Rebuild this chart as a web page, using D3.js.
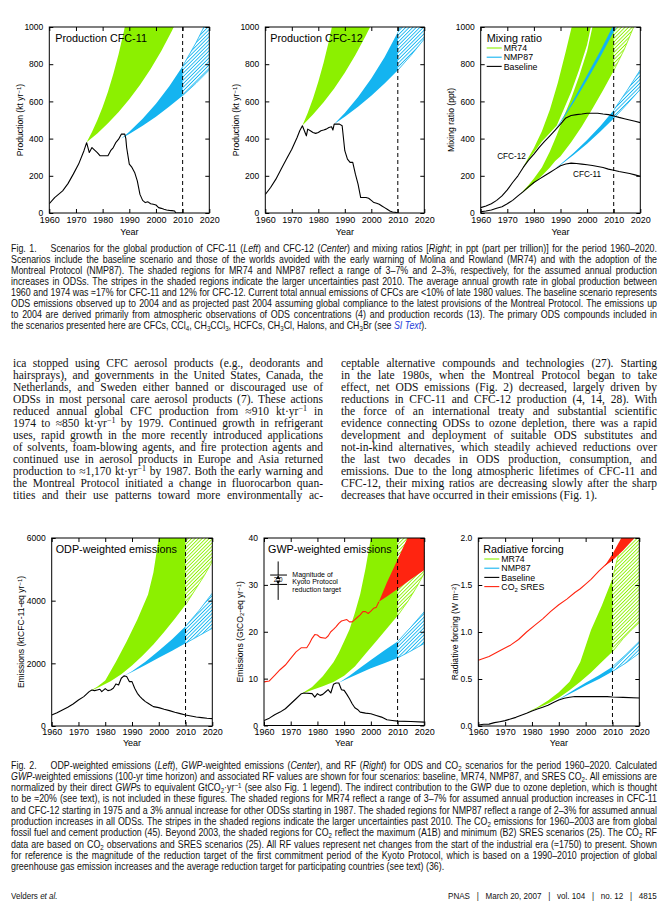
<!DOCTYPE html>
<html>
<head>
<meta charset="utf-8">
<script src="https://cdn.jsdelivr.net/npm/d3@7"></script>
<style>
  body { margin: 0; background: #fff; width: 668px; height: 918px; position: relative; overflow: hidden; }
  svg { position: absolute; left: 0; top: 0; }
  .ln { position: absolute; white-space: pre; color: #111; transform-origin: 0 0; }
  .cap { font-family: "Liberation Sans", Arial, sans-serif; font-size: 10.3px; line-height: 11px; }
  .body { font-family: "Liberation Serif", "Times New Roman", serif; font-size: 11.5px; line-height: 12px; }
  .foot { font-family: "Liberation Sans", Arial, sans-serif; font-size: 9.4px; line-height: 11px; }
  sub { font-size: 0.7em; vertical-align: -0.25em; line-height: 0; }
  sup { font-size: 0.7em; vertical-align: 0.45em; line-height: 0; }
  .gap { display: inline-block; width: 16px; }
  .si { color: #1a3cd8; font-style: italic; }
</style>
</head>
<body>
<script>
// ---- Fig. 1 data (kt/yr and ppt) ----
var X_TICKS = [1960, 1970, 1980, 1990, 2000, 2010, 2020];
var PROD_TICKS = [0, 200, 400, 600, 800, 1000];
var ODP_TICKS = [0, 2000, 4000, 6000];
var GWP_TICKS = [0, 10, 20, 30, 40];
var RF_TICKS = [0, 0.5, 1, 1.5, 2];

var cfc11Prod = [[1960,50],[1962,83],[1965,119],[1967,158],[1969,209],[1971,263],[1973,335],[1974,378],[1975,325],[1976,352],[1977,338],[1978,325],[1979,308],[1980,308],[1982,308],[1983,335],[1984,352],[1985,380],[1986,397],[1987,424],[1988.3,424],[1988.7,400],[1989,352],[1990,263],[1991,245],[1992,218],[1993,173],[1994,100],[1995,68],[1996,56],[1997,60],[1998,50],[1999,47],[2000,43],[2001,29],[2002,25],[2003,20],[2004,16],[2005,14],[2006,13],[2007,11],[2007.4,0],[2010,0]];
var cfc11Mr74Lo = [[1974,380],[1978,428],[1982,482],[1986,543],[1990,611],[1994,688],[1998,774],[2002,871],[2006,980],[2008,1040]];
var cfc11Mr74Hi = [[1974,380],[1976,435],[1978,498],[1980,570],[1982,652],[1984,747],[1986,855],[1988,979],[1990,1120]];
var cfc11Nmp87Lo = [[1987,400],[1990,425],[1995,469],[2000,518],[2005,572],[2010,631],[2015,697],[2020,769]];
var cfc11Nmp87Hi = [[1987,400],[1990,437],[1995,507],[2000,587],[2005,681],[2010,789],[2015,915],[2018,1000],[2020,1061]];

var cfc12Prod = [[1960,100],[1962,137],[1964,182],[1966,236],[1968,290],[1970,343],[1972,406],[1973,442],[1974,469],[1975,433],[1975.5,415],[1976,451],[1977,442],[1978,433],[1979,428],[1980,433],[1981,442],[1982,446],[1983,451],[1984,460],[1985,464],[1985.5,446],[1986,478],[1988,478],[1989,469],[1990,335],[1991,290],[1992,272],[1993,272],[1994,209],[1995,155],[1996,83],[1998,83],[1999,79],[2000,68],[2001,56],[2002,52],[2003,47],[2004,38],[2005,29],[2006,20],[2007,11],[2008,5],[2009,4],[2010,0]];
var cfc12Mr74Lo = [[1974,470],[1978,529],[1982,595],[1986,670],[1990,754],[1994,849],[1998,955],[2000,1013]];
var cfc12Mr74Hi = [[1974,470],[1976,538],[1978,616],[1980,705],[1982,808],[1984,925],[1986,1059]];
var cfc12Nmp87Lo = [[1986,478],[1990,517],[1995,571],[2000,630],[2005,696],[2010,768],[2015,848],[2020,936]];
var cfc12Nmp87Hi = [[1986,478],[1990,538],[1995,624],[2000,723],[2005,838],[2010,972],[2012,1031]];

var cfc12Mix = [[1960,29],[1962,38],[1964,50],[1966,68],[1968,92],[1970,124],[1972,164],[1974,200],[1976,245],[1978,284],[1980,317],[1982,353],[1984,385],[1986,415],[1988,446],[1990,478],[1992,511],[1994,524],[1996,529],[1998,532],[2000,536],[2004,536],[2006,532],[2008,529],[2010,522],[2012,514],[2014,507],[2016,500],[2018,493],[2020,486]];
var cfc11Mix = [[1960,7],[1962,11],[1964,16],[1966,25],[1968,34],[1970,50],[1972,68],[1974,92],[1976,115],[1978,140],[1980,164],[1982,182],[1984,200],[1986,218],[1988,236],[1990,254],[1992,263],[1994,268],[1996,266],[1998,263],[2000,259],[2002,255],[2004,250],[2006,245],[2008,236],[2010,230],[2012,223],[2014,218],[2016,212],[2018,205],[2020,198]];
var mix12Mr74Lo = [[1975,222],[1978,288],[1980,325],[1983,385],[1986,430],[1988.6,470],[1991,550],[1994,650],[1997,770],[2000,905],[2001.4,1000],[2003,1100]];
var mix12Mr74Hi = [[1975,222],[1978,300],[1980,350],[1983,440],[1986,555],[1989,700],[1992,870],[1994.2,1000],[1995.5,1100]];
var mix11Mr74Lo = [[1975,104],[1978,135],[1980,160],[1983,200],[1986,245],[1988,280],[1990,305],[1994,380],[1998,465],[2002,560],[2006,660],[2010,765],[2014,880],[2017.5,1000],[2019,1060]];
var mix11Mr74Hi = [[1975,104],[1978,150],[1980,185],[1983,245],[1986,330],[1988.6,420],[1991,510],[1994,615],[1997,735],[2000,870],[2002,1000],[2003.5,1100]];
var mix12Nmp87Lo = [[1988,450],[1990,485],[1995,595],[2000,715],[2005,840],[2010,975],[2012,1030]];
var mix12Nmp87Hi = [[1988,450],[1990,492],[1995,612],[2000,742],[2005,872],[2009.5,1000],[2011,1045]];
var mix11Nmp87Lo = [[1988,240],[1990,258],[1995,313],[2000,372],[2005,438],[2010,508],[2015,585],[2020,665]];
var mix11Nmp87Hi = [[1988,240],[1990,262],[1995,324],[2000,393],[2005,468],[2010,553],[2015,658],[2020,770]];

// ---- Fig. 2 data ----
var odpBase = [[1960,352],[1962,426],[1964,512],[1966,597],[1968,703],[1970,831],[1972,938],[1974,1098],[1975,1151],[1976,1130],[1977,1151],[1978,1172],[1978.7,1098],[1980,1194],[1981,1130],[1982,1151],[1983,1204],[1984,1343],[1985,1311],[1986,1524],[1987,1599],[1988,1577],[1989,1417],[1990,1417],[1991,1204],[1992,1044],[1993,938],[1994,853],[1995,778],[1996,725],[1997,671],[1998,618],[2000,586],[2002,533],[2004,490],[2006,437],[2008,394],[2010,352],[2012,320],[2014,288],[2016,266],[2018,245],[2020,234]];
var odpMr74Lo = [[1974,1100],[1978,1250],[1982,1430],[1986,1650],[1990,1930],[1994,2250],[1998,2600],[2002,3000],[2006,3420],[2010,3870],[2014,4400],[2017,4800],[2020,5250]];
var odpMr74Hi = [[1974,1100],[1977,1250],[1980,1450],[1984,2050],[1988,2700],[1992,3400],[1996,4200],[1998,4900],[2000,6000],[2001,6500]];
var odpNmp87Lo = [[1987,1600],[1990,1720],[1995,1950],[2000,2180],[2005,2400],[2010,2640],[2015,2880],[2020,3120]];
var odpNmp87Hi = [[1987,1600],[1990,1750],[1995,2050],[2000,2400],[2005,2770],[2010,3180],[2015,3680],[2020,4240]];

var gwpBase = [[1960,1.07],[1962,1.57],[1964,2.29],[1966,2.86],[1968,3.57],[1970,4.64],[1972,5.71],[1974,6.79],[1975,6.93],[1978,6.79],[1979,6.07],[1980,6.79],[1981,6.43],[1982,6.64],[1983,7.14],[1984,7.64],[1985,6.93],[1986,8.79],[1987,9.07],[1988,9.07],[1989,7.64],[1990,7.5],[1991,6.64],[1992,5.71],[1993,4.64],[1994,3.79],[1995,3.43],[1996,2.86],[1998,2.64],[2000,2.5],[2002,2.14],[2004,1.79],[2006,1.21],[2008,1.07],[2010,0.93],[2015,0.86],[2020,0.71]];
var co2Emis = [[1960,9.3],[1962,9.5],[1964,10.7],[1966,11.9],[1968,12.9],[1970,14.3],[1972,15.7],[1974,16.6],[1976,16.6],[1977,17.5],[1978,18.6],[1979,19.4],[1980,19.3],[1981,18.8],[1983,18.6],[1984,19.1],[1985,20.0],[1986,20.5],[1987,21.1],[1988,21.8],[1989,22.3],[1991,22.6],[1992,22.1],[1993,22.1],[1994,22.6],[1995,23.1],[1996,23.6],[1997,24.3],[1998,24.3],[1999,23.9],[2000,24.4],[2001,25.0],[2002,25.2],[2003,26.4]];
var gwpMr74Lo = [[1974,6.8],[1978,7.6],[1982,8.4],[1986,9.3],[1990,10.6],[1994,12.6],[1998,15.3],[2002,18.0],[2006,20.7],[2010,23.4],[2014,26.6],[2017,29.4],[2020,32.5]];
var gwpMr74Hi = [[1974,6.8],[1978,8.2],[1982,10.5],[1986,13.5],[1988,15.5],[1990,18],[1992,20.5],[1994,24],[1996,28],[1998,33.5],[2000,40],[2001,44]];
var gwpNmp87Lo = [[1988,9.1],[1992,10.2],[1996,11.2],[2000,12.2],[2005,13.3],[2010,14.4],[2015,15.9],[2020,17.5]];
var gwpNmp87Hi = [[1988,9.1],[1992,10.6],[1996,12.3],[2000,14.0],[2005,16.0],[2010,17.9],[2015,21.0],[2020,24.3]];
var co2SresLo = [[2003,26.4],[2006,27.5],[2010,29.1],[2015,31.2],[2020,33.2]];
var co2SresHi = [[2003,26.4],[2006,30.5],[2010,35.4],[2013.7,40],[2015,41.8]];
var KYOTO = { year: 1965.3, top: 35, upper: 32.1, lower: 30.1, bottom: 26.8, from: 1962.3, to: 1968.6, textYear: 1970.6, text: ['Magnitude of', 'Kyoto Protocol', 'reduction target'], textY: [32.15, 30.6, 29.05] };

var rfBase = [[1960,0.01],[1962,0.018],[1964,0.02],[1966,0.036],[1968,0.046],[1970,0.057],[1972,0.075],[1974,0.092],[1976,0.114],[1978,0.135],[1980,0.16],[1982,0.18],[1984,0.2],[1986,0.22],[1988,0.25],[1990,0.277],[1992,0.295],[1994,0.305],[1996,0.313],[2008,0.313],[2010,0.309],[2014,0.305],[2020,0.298]];
var co2Rf = [[1960,0.70],[1964,0.74],[1968,0.80],[1972,0.86],[1975,0.92],[1978,1.0],[1981,1.07],[1984,1.14],[1987,1.22],[1990,1.29],[1993,1.35],[1996,1.42],[1998,1.46],[2000,1.51],[2002,1.56],[2005,1.65],[2008,1.73]];
var rfMr74Lo = [[1978,0.14],[1982,0.19],[1986,0.24],[1990,0.3],[1994,0.38],[1998,0.47],[2002,0.57],[2006,0.68],[2010,0.79],[2014,0.93],[2017,1.02],[2020,1.1]];
var rfMr74Hi = [[1978,0.14],[1982,0.2],[1986,0.27],[1990,0.36],[1994,0.47],[1998,0.68],[2002,1.02],[2006,1.28],[2010,1.57],[2012,1.8],[2013.4,2.0],[2014,2.1]];
var rfNmp87Lo = [[1988,0.25],[1992,0.31],[1996,0.37],[2000,0.43],[2005,0.5],[2010,0.58],[2015,0.67],[2020,0.775]];
var rfNmp87Hi = [[1988,0.25],[1992,0.32],[1996,0.39],[2000,0.46],[2005,0.54],[2010,0.63],[2015,0.76],[2020,0.9]];
var rfSresLo = [[2007,1.7],[2010,1.76],[2014,1.87],[2018.2,2.0],[2019,2.05]];
var rfSresHi = [[2007,1.7],[2010,1.83],[2013.3,2.0],[2014,2.05]];

var LEGEND_MIX = [['MR74', 'green'], ['NMP87', 'blue'], ['Baseline', 'black']];
var LEGEND_RF = [['MR74', 'green'], ['NMP87', 'blue'], ['Baseline', 'black'], ['CO<sub>2</sub> SRES', 'red']];

// ---- page text ----
var CAPTION1 = [
  'Fig. 1.<span class="gap"></span>Scenarios for the global production of CFC-11 (<i>Left</i>) and CFC-12 (<i>Center</i>) and mixing ratios [<i>Right</i>; in ppt (part per trillion)] for the period 1960–2020.',
  'Scenarios include the baseline scenario and those of the worlds avoided with the early warning of Molina and Rowland (MR74) and with the adoption of the',
  'Montreal Protocol (NMP87). The shaded regions for MR74 and NMP87 reflect a range of 3–7% and 2–3%, respectively, for the assumed annual production',
  'increases in ODSs. The stripes in the shaded regions indicate the larger uncertainties past 2010. The average annual growth rate in global production between',
  '1960 and 1974 was ≈17% for CFC-11 and 12% for CFC-12. Current total annual emissions of CFCs are &lt;10% of late 1980 values. The baseline scenario represents',
  'ODS emissions observed up to 2004 and as projected past 2004 assuming global compliance to the latest provisions of the Montreal Protocol. The emissions up',
  'to 2004 are derived primarily from atmospheric observations of ODS concentrations (4) and production records (13). The primary ODS compounds included in',
  'the scenarios presented here are CFCs, CCl<sub>4</sub>, CH<sub>3</sub>CCl<sub>3</sub>, HCFCs, CH<sub>3</sub>Cl, Halons, and CH<sub>3</sub>Br (see <span class="si">SI Text</span>).'
];
var BODY_LEFT = [
  'ica stopped using CFC aerosol products (e.g., deodorants and',
  'hairsprays), and governments in the United States, Canada, the',
  'Netherlands, and Sweden either banned or discouraged use of',
  'ODSs in most personal care aerosol products (7). These actions',
  'reduced annual global CFC production from ≈910 kt·yr<sup>−1</sup> in',
  '1974 to ≈850 kt·yr<sup>−1</sup> by 1979. Continued growth in refrigerant',
  'uses, rapid growth in the more recently introduced applications',
  'of solvents, foam-blowing agents, and fire protection agents and',
  'continued use in aerosol products in Europe and Asia returned',
  'production to ≈1,170 kt·yr<sup>−1</sup> by 1987. Both the early warning and',
  'the Montreal Protocol initiated a change in fluorocarbon quan-',
  'tities and their use patterns toward more environmentally ac-'
];
var BODY_RIGHT = [
  'ceptable alternative compounds and technologies (27). Starting',
  'in the late 1980s, when the Montreal Protocol began to take',
  'effect, net ODS emissions (Fig. 2) decreased, largely driven by',
  'reductions in CFC-11 and CFC-12 production (4, 14, 28). With',
  'the force of an international treaty and substantial scientific',
  'evidence connecting ODSs to ozone depletion, there was a rapid',
  'development and deployment of suitable ODS substitutes and',
  'not-in-kind alternatives, which steadily achieved reductions over',
  'the last two decades in ODS production, consumption, and',
  'emissions. Due to the long atmospheric lifetimes of CFC-11 and',
  'CFC-12, their mixing ratios are decreasing slowly after the sharp',
  'decreases that have occurred in their emissions (Fig. 1).'
];
var CAPTION2 = [
  'Fig. 2.<span class="gap"></span>ODP-weighted emissions (<i>Left</i>), <i>GWP</i>-weighted emissions (<i>Center</i>), and RF (<i>Right</i>) for ODS and CO<sub>2</sub> scenarios for the period 1960–2020. Calculated',
  '<i>GWP</i>-weighted emissions (100-yr time horizon) and associated RF values are shown for four scenarios: baseline, MR74, NMP87, and SRES CO<sub>2</sub>. All emissions are',
  'normalized by their direct <i>GWP</i>s to equivalent GtCO<sub>2</sub>·yr<sup>−1</sup> (see also Fig. 1 legend). The indirect contribution to the GWP due to ozone depletion, which is thought',
  'to be ≈20% (see text), is not included in these figures. The shaded regions for MR74 reflect a range of 3–7% for assumed annual production increases in CFC-11',
  'and CFC-12 starting in 1975 and a 3% annual increase for other ODSs starting in 1987. The shaded regions for NMP87 reflect a range of 2–3% for assumed annual',
  'production increases in all ODSs. The stripes in the shaded regions indicate the larger uncertainties past 2010. The CO<sub>2</sub> emissions for 1960–2003 are from global',
  'fossil fuel and cement production (45). Beyond 2003, the shaded regions for CO<sub>2</sub> reflect the maximum (A1B) and minimum (B2) SRES scenarios (25). The CO<sub>2</sub> RF',
  'data are based on CO<sub>2</sub> observations and SRES scenarios (25). All RF values represent net changes from the start of the industrial era (≈1750) to present. Shown',
  'for reference is the magnitude of the reduction target of the first commitment period of the Kyoto Protocol, which is based on a 1990–2010 projection of global',
  'greenhouse gas emission increases and the average reduction target for participating countries (see text) (36).'
];
var FOOTER_LEFT = 'Velders <i>et al.</i>';
var FOOTER_RIGHT = 'PNAS   |   March 20, 2007   |   vol. 104   |   no. 12   |   4815';

var COLORS = { green: '#8cf000', blue: '#14b4f0', red: '#ff2410', black: '#000' };
var FONT = '"Liberation Sans", Arial, Helvetica, sans-serif';

var svg = d3.select('body').append('svg').attr('width', 668).attr('height', 918);
var defs = svg.append('defs');
['green', 'blue'].forEach(function (c) {
  var p = defs.append('pattern').attr('id', 'hatch-' + c).attr('patternUnits', 'userSpaceOnUse')
    .attr('width', 2.5).attr('height', 2.5).attr('patternTransform', 'rotate(45)');
  p.append('line').attr('x1', 1.25).attr('x2', 1.25).attr('y1', 0).attr('y2', 2.5)
    .attr('stroke', COLORS[c]).attr('stroke-width', 0.9);
});

function panel(p) {
  var x = d3.scaleLinear().domain([1960, 2020]).range([p.l, p.r]);
  var y = d3.scaleLinear().domain([0, p.ymax]).range([p.b, p.t]);
  var g = svg.append('g');
  var w = p.r - p.l, h = p.b - p.t;
  function clip(name, x0, x1) {
    defs.append('clipPath').attr('id', p.id + name).append('rect')
      .attr('x', x0).attr('y', p.t).attr('width', x1 - x0).attr('height', h);
    return 'url(#' + p.id + name + ')';
  }
  var cAll = clip('all', p.l, p.r), cPre = clip('pre', p.l, x(2010)), cPost = clip('post', x(2010), p.r);
  var line = d3.line().x(function (d) { return x(d[0]); }).y(function (d) { return y(d[1]); });

  // shaded scenario ranges; solid up to 2010, striped after
  p.bands.forEach(function (b) {
    var pts = b.lo.concat([[2035, p.ymax * 3]], b.hi.slice().reverse());
    var d = line(pts) + 'Z';
    g.append('path').attr('d', d).attr('fill', COLORS[b.color]).attr('clip-path', b.hatch ? cPre : cAll);
    if (b.hatch) {
      g.append('path').attr('d', d).attr('fill', 'url(#hatch-' + b.color + ')').attr('clip-path', cPost);
      [b.lo, b.hi].forEach(function (e) {
        g.append('path').attr('d', line(e)).attr('fill', 'none').attr('stroke', COLORS[b.color])
          .attr('stroke-width', 0.8).attr('clip-path', cPost);
      });
    }
  });
  p.lines.forEach(function (l) {
    g.append('path').attr('d', line(l.data)).attr('fill', 'none').attr('stroke', COLORS[l.color])
      .attr('stroke-width', 1.1).attr('stroke-linejoin', 'round').attr('clip-path', cAll);
  });
  g.append('line').attr('x1', x(2010)).attr('x2', x(2010)).attr('y1', p.t).attr('y2', p.b)
    .attr('stroke', '#000').attr('stroke-width', 1).attr('stroke-dasharray', '4,3');

  // axes, ticks pointing in on all four sides
  var gx = g.append('g').attr('transform', 'translate(0,' + p.b + ')')
    .call(d3.axisBottom(x).tickValues(X_TICKS).tickSize(-4).tickPadding(p.xpad).tickFormat(d3.format('d')));
  g.append('g').attr('transform', 'translate(0,' + p.t + ')')
    .call(d3.axisTop(x).tickValues(X_TICKS).tickSize(-4).tickFormat(''));
  var gy = g.append('g').attr('transform', 'translate(' + p.l + ',0)')
    .call(d3.axisLeft(y).tickValues(p.yticks).tickSize(-4).tickPadding(6).tickFormat(p.fmt));
  g.append('g').attr('transform', 'translate(' + p.r + ',0)')
    .call(d3.axisRight(y).tickValues(p.yticks).tickSize(-4).tickFormat(''));
  g.selectAll('.domain').remove();
  g.selectAll('.tick line').attr('stroke', '#000');
  g.selectAll('.tick text').attr('font-family', FONT).attr('fill', '#000');
  gx.selectAll('.tick text').attr('font-size', 9);
  gy.selectAll('.tick text').attr('font-size', 8.5);
  g.append('rect').attr('x', p.l).attr('y', p.t).attr('width', w).attr('height', h)
    .attr('fill', 'none').attr('stroke', '#000').attr('stroke-width', 1);

  g.append('text').attr('x', (p.l + p.r) / 2).attr('y', p.b + p.yearDy).attr('text-anchor', 'middle')
    .attr('font-family', FONT).attr('font-size', 9).text('Year');
  var yl = g.append('text').attr('transform', 'translate(' + p.ylx + ',' + (p.t + p.b) / 2 + ') rotate(-90)')
    .attr('text-anchor', 'middle').attr('dy', '0.35em').attr('font-family', FONT).attr('font-size', 8.6);
  p.ylabel.forEach(function (s) {
    var t = yl.append('tspan').text(s[0]);
    if (s[1] === 'sup') t.attr('baseline-shift', '35%').attr('font-size', 6);
    if (s[1] === 'sub') t.attr('baseline-shift', '-20%').attr('font-size', 6);
  });
  if (p.title) {
    g.append('text').attr('x', p.l + p.tx).attr('y', p.t + 14.5).attr('font-family', FONT)
      .attr('font-size', 10.8).text(p.title);
  }
  if (p.legend) {
    p.legend.forEach(function (e, i) {
      var ly = p.t + 21 + i * 9.2;
      g.append('line').attr('x1', p.l + 6).attr('x2', p.l + 21).attr('y1', ly).attr('y2', ly)
        .attr('stroke', COLORS[e[1]]).attr('stroke-width', 1.1);
      var t = g.append('text').attr('x', p.l + 23).attr('y', ly + 3.2).attr('font-family', FONT).attr('font-size', 8.8);
      var m = e[0].split(/<sub>|<\/sub>/);
      t.append('tspan').text(m[0]);
      if (m.length > 1) {
        t.append('tspan').attr('baseline-shift', '-25%').attr('font-size', 6).text(m[1]);
        t.append('tspan').text(m[2]);
      }
    });
  }
  return { x: x, y: y, g: g };
}

var fmtInt = d3.format('d'), fmtRf = d3.format('.1f');

panel({ id: 'p1', l: 49.3, r: 209.3, t: 27, b: 213, ymax: 1000, yticks: PROD_TICKS, fmt: fmtInt, xpad: 4, yearDy: 22,
  ylx: 20, ylabel: [['Production (kt yr'], ['−1', 'sup'], [')']], title: 'Production CFC-11', tx: 6,
  bands: [{ lo: cfc11Mr74Lo, hi: cfc11Mr74Hi, color: 'green', hatch: true },
          { lo: cfc11Nmp87Lo, hi: cfc11Nmp87Hi, color: 'blue', hatch: true }],
  lines: [{ data: cfc11Prod, color: 'black' }] });

panel({ id: 'p2', l: 265.3, r: 424.3, t: 27, b: 213, ymax: 1000, yticks: PROD_TICKS, fmt: fmtInt, xpad: 4, yearDy: 22,
  ylx: 236, ylabel: [['Production (kt yr'], ['−1', 'sup'], [')']], title: 'Production CFC-12', tx: 5,
  bands: [{ lo: cfc12Mr74Lo, hi: cfc12Mr74Hi, color: 'green', hatch: true },
          { lo: cfc12Nmp87Lo, hi: cfc12Nmp87Hi, color: 'blue', hatch: true }],
  lines: [{ data: cfc12Prod, color: 'black' }] });

var p3 = panel({ id: 'p3', l: 480.7, r: 640.3, t: 27, b: 213, ymax: 1000, yticks: PROD_TICKS, fmt: fmtInt, xpad: 4, yearDy: 22,
  ylx: 451, ylabel: [['Mixing ratio (ppt)']], title: 'Mixing ratio', tx: 6, legend: LEGEND_MIX,
  bands: [{ lo: mix12Mr74Lo, hi: mix12Mr74Hi, color: 'green', hatch: true },
          { lo: mix11Mr74Lo, hi: mix11Mr74Hi, color: 'green', hatch: true },
          { lo: mix12Nmp87Lo, hi: mix12Nmp87Hi, color: 'blue', hatch: true },
          { lo: mix11Nmp87Lo, hi: mix11Nmp87Hi, color: 'blue', hatch: true }],
  lines: [{ data: cfc12Mix, color: 'black' }, { data: cfc11Mix, color: 'black' }] });
p3.g.append('text').attr('x', p3.x(1966.2)).attr('y', p3.y(292)).attr('font-family', FONT).attr('font-size', 8.2).text('CFC-12');
p3.g.append('text').attr('x', p3.x(1994.7)).attr('y', p3.y(195)).attr('font-family', FONT).attr('font-size', 8.2).text('CFC-11');

panel({ id: 'p4', l: 51.7, r: 212.3, t: 538, b: 726, ymax: 6000, yticks: ODP_TICKS, fmt: fmtInt, xpad: 3, yearDy: 20,
  ylx: 21, ylabel: [['Emissions (ktCFC-11-eq yr'], ['−1', 'sup'], [')']], title: 'ODP-weighted emissions', tx: 4,
  bands: [{ lo: odpMr74Lo, hi: odpMr74Hi, color: 'green', hatch: true },
          { lo: odpNmp87Lo, hi: odpNmp87Hi, color: 'blue', hatch: true }],
  lines: [{ data: odpBase, color: 'black' }] });

var p5 = panel({ id: 'p5', l: 264, r: 424.3, t: 538, b: 725.5, ymax: 40, yticks: GWP_TICKS, fmt: fmtInt, xpad: 3, yearDy: 20,
  ylx: 240, ylabel: [['Emissions (GtCO'], ['2', 'sub'], ['-eq yr'], ['−1', 'sup'], [')']], title: 'GWP-weighted emissions', tx: 4,
  bands: [{ lo: gwpMr74Lo, hi: gwpMr74Hi, color: 'green', hatch: true },
          { lo: gwpNmp87Lo, hi: gwpNmp87Hi, color: 'blue', hatch: true },
          { lo: co2SresLo, hi: co2SresHi, color: 'red', hatch: false }],
  lines: [{ data: co2Emis, color: 'red' }, { data: gwpBase, color: 'black' }] });

// Kyoto reduction target marker
(function () {
  var x = p5.x, y = p5.y, g = p5.g, k = KYOTO, kx = x(k.year);
  g.append('line').attr('x1', kx).attr('x2', kx).attr('y1', y(k.top)).attr('y2', y(k.upper)).attr('stroke', '#000');
  g.append('line').attr('x1', kx).attr('x2', kx).attr('y1', y(k.lower)).attr('y2', y(k.bottom)).attr('stroke', '#000');
  [k.upper, k.lower].forEach(function (v, i) {
    g.append('line').attr('x1', x(k.from)).attr('x2', x(k.to)).attr('y1', y(v)).attr('y2', y(v)).attr('stroke', '#000');
    var s = i === 0 ? -1 : 1, yy = y(v);
    g.append('path').attr('d', 'M' + kx + ',' + yy + 'l-2.2,' + (-s * 4) + 'h4.4z').attr('fill', '#000');
  });
  g.append('text').attr('x', kx).attr('y', (y(k.upper) + y(k.lower)) / 2 + 2.3).attr('text-anchor', 'middle')
    .attr('font-family', FONT).attr('font-size', 6.4).text('2.0');
  k.text.forEach(function (s, i) {
    g.append('text').attr('x', x(k.textYear)).attr('y', y(k.textY[i]) + 2.4).attr('font-family', FONT)
      .attr('font-size', 7).text(s);
  });
})();

panel({ id: 'p6', l: 478.3, r: 639.3, t: 538, b: 726, ymax: 2, yticks: RF_TICKS, fmt: fmtRf, xpad: 3, yearDy: 20,
  ylx: 455, ylabel: [['Radiative forcing (W m'], ['−2', 'sup'], [')']], title: 'Radiative forcing', tx: 5, legend: LEGEND_RF,
  bands: [{ lo: rfMr74Lo, hi: rfMr74Hi, color: 'green', hatch: true },
          { lo: rfNmp87Lo, hi: rfNmp87Hi, color: 'blue', hatch: true },
          { lo: rfSresLo, hi: rfSresHi, color: 'red', hatch: false }],
  lines: [{ data: co2Rf, color: 'red' }, { data: rfBase, color: 'black' }] });

// ---- text blocks, each line justified by word spacing (optionally condensed by scaleX) ----
function textBlock(lines, o) {
  var s = o.scale || 1;
  lines.forEach(function (html, i) {
    var div = d3.select('body').append('div').attr('class', 'ln ' + o.cls)
      .style('left', o.x + 'px').style('top', (o.y + i * o.dy - o.lh / 2) + 'px')
      .style('transform', 'scaleX(' + s + ')').html(html);
    if (i === lines.length - 1 && o.lastLeft) return;
    var w0 = div.node().getBoundingClientRect().width / s;
    var n = (div.text().match(/ /g) || []).length;
    if (n) div.style('word-spacing', ((o.width / s - w0) / n) + 'px');
  });
}
textBlock(CAPTION1, { cls: 'cap', x: 11, y: 248, dy: 11.1, lh: 11, width: 646, lastLeft: true, scale: 0.86 });
textBlock(BODY_LEFT, { cls: 'body', x: 13, y: 363, dy: 12, lh: 12, width: 310, lastLeft: false });
textBlock(BODY_RIGHT, { cls: 'body', x: 341, y: 363, dy: 12, lh: 12, width: 316, lastLeft: true });
textBlock(CAPTION2, { cls: 'cap', x: 11, y: 765, dy: 11.3, lh: 11, width: 646, lastLeft: true, scale: 0.86 });

var FOOT_SCALE = 0.86;
d3.select('body').append('div').attr('class', 'ln foot').style('left', '11px').style('top', '890px')
  .style('transform', 'scaleX(' + FOOT_SCALE + ')').html(FOOTER_LEFT);
var fr = d3.select('body').append('div').attr('class', 'ln foot').style('top', '890px')
  .style('transform', 'scaleX(' + FOOT_SCALE + ')').text(FOOTER_RIGHT);
fr.style('left', (657 - fr.node().getBoundingClientRect().width) + 'px');
</script>
</body>
</html>
